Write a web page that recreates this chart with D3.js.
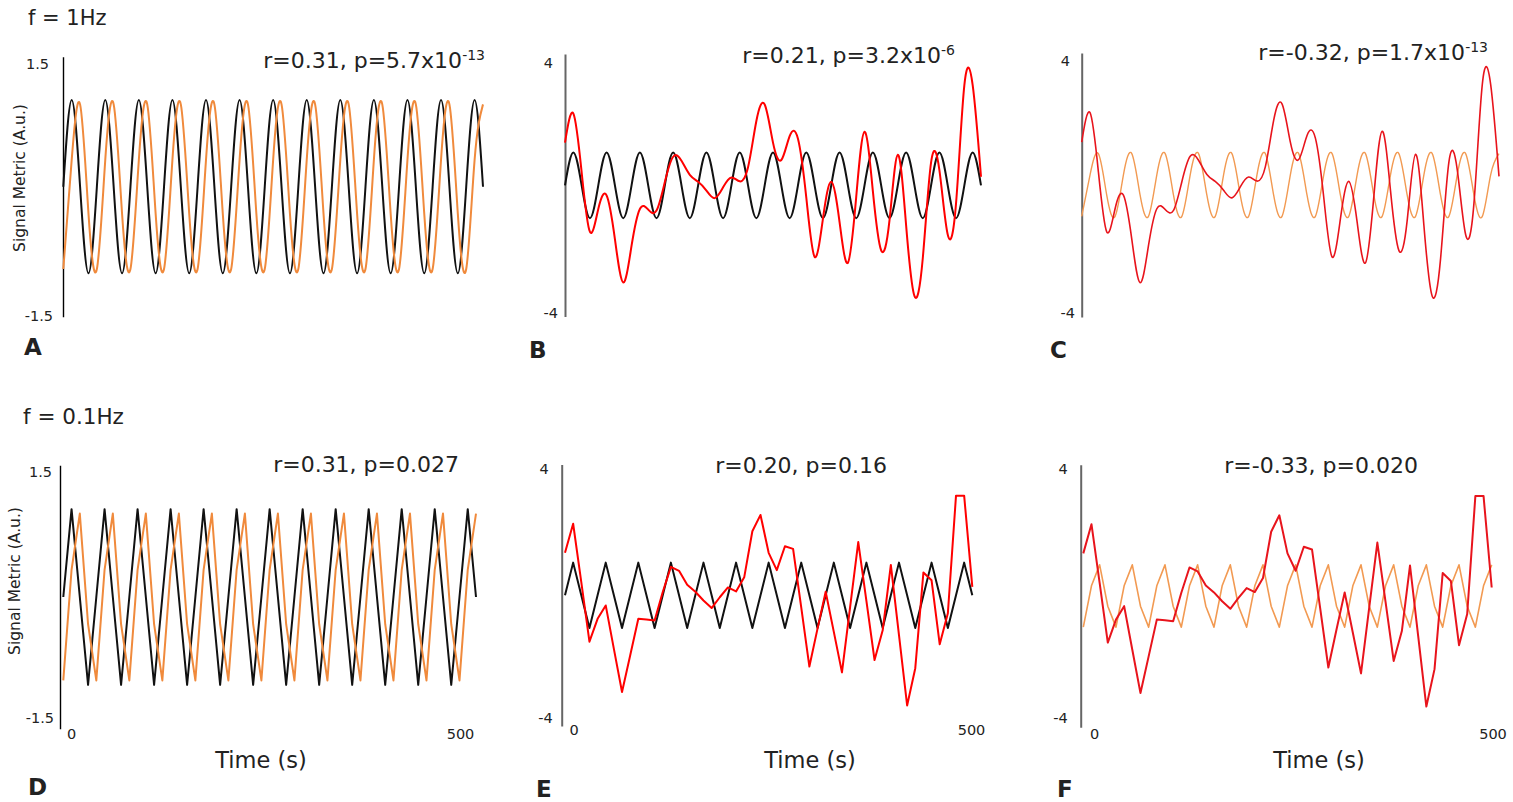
<!DOCTYPE html>
<html>
<head>
<meta charset="utf-8">
<script src="https://cdn.jsdelivr.net/npm/d3@7"></script>
<style>
  body { margin: 0; background: #fff; }
  text { font-family: "DejaVu Sans", sans-serif; fill: #222; }
</style>
</head>
<body>
<script>

// ---- data (one sample every 10 s) ----
var timeSec = [0,10,20,30,40,50,60,70,80,90,100,110,120,130,140,150,160,170,180,190,
               200,210,220,230,240,250,260,270,280,290,300,310,320,330,340,350,360,370,380,390,
               400,410,420,430,440,450,460,470,480,490,500];

// reference sine (black)
var refWave = [0,1,0,-1, 0,1,0,-1, 0,1,0,-1, 0,1,0,-1, 0,1,0,-1, 0,1,0,-1,
               0,1,0,-1, 0,1,0,-1, 0,1,0,-1, 0,1,0,-1, 0,1,0,-1, 0,1,0,-1, 0,1,0];

// lagged sine (orange)
var lagWave = [-0.95,0.31,0.95,-0.31, -0.95,0.31,0.95,-0.31, -0.95,0.31,0.95,-0.31,
               -0.95,0.31,0.95,-0.31, -0.95,0.31,0.95,-0.31, -0.95,0.31,0.95,-0.31,
               -0.95,0.31,0.95,-0.31, -0.95,0.31,0.95,-0.31, -0.95,0.31,0.95,-0.31,
               -0.95,0.31,0.95,-0.31, -0.95,0.31,0.95,-0.31, -0.95,0.31,0.95,-0.31,
               -0.95,0.31,0.95];

// measured signal (red)
var measured = [1.30,2.19,0.40,-1.42,-0.72,-0.31,-1.64,-2.96,-1.84,-0.72,
                -0.74,-0.77,0.10,0.87,0.75,0.32,0.11,-0.16,-0.39,-0.06,
                0.24,0.12,0.55,1.96,2.46,1.30,0.77,1.50,1.42,-0.37,
                -2.18,-1.02,0.11,-1.12,-2.36,-0.36,1.63,-0.17,-1.98,-1.07,
                0.93,-1.22,-3.37,-2.23,0.70,0.46,-1.50,-0.55,3.05,3.05,0.26];

var unitTicks = [-1.5, 1.5];
var wideTicks = [-4, 4];
var timeTicks = [0, 500];

var statR   = ["0.31", "0.21", "-0.32", "0.31", "0.20", "-0.33"];
var statP   = ["5.7x10", "3.2x10", "1.7x10", "0.027", "0.16", "0.020"];
var statExp = ["-13", "-6", "-13", "", "", ""];
var panelLetters = ["A", "B", "C", "D", "E", "F"];
var rowTitles = ["f = 1Hz", "f = 0.1Hz"];

// ---- layout ----
var svg = d3.select("body").append("svg")
    .attr("width", 1513)
    .attr("height", 802);

var black = "#111", orange = "#f08a3c", orangeLight = "#f29a52", red = "#ff0000", red2 = "#e8141c";

var panels = [
  { xr: [63.3, 483], yr: [316.7, 56.7], axisX: 63, ticks: unitTicks, axisColor: "#000", axisW: 1.4,
    pad: [14, 10], dy: [11.3, 3.3], smooth: true,
    lines: [{ v: refWave, c: black, w: 2 }, { v: lagWave, c: orange, w: 2 }],
    stat: { x: 485, y: 68 }, letter: { x: 24, y: 355 }, ylab: { x: 25, y: 178 } },
  { xr: [565, 981], yr: [316.6, 54], axisX: 565, ticks: wideTicks, axisColor: "#666", axisW: 2,
    pad: [12, 7], dy: [13, 0.4], smooth: true,
    lines: [{ v: refWave, c: black, w: 2 }, { v: measured, c: red, w: 2 }],
    stat: { x: 955, y: 63 }, letter: { x: 529, y: 358 } },
  { xr: [1081.7, 1499], yr: [317, 53], axisX: 1081.7, ticks: wideTicks, axisColor: "#666", axisW: 2,
    pad: [11.7, 6.7], dy: [12, 0], smooth: true,
    lines: [{ v: lagWave, c: orangeLight, w: 1.4 }, { v: measured, c: red2, w: 1.6 }],
    stat: { x: 1488, y: 60 }, letter: { x: 1050, y: 358 } },
  { xr: [63.3, 476], yr: [728.7, 465.3], axisX: 60, ticks: unitTicks, axisColor: "#000", axisW: 1.4,
    pad: [8, 6], dy: [10.7, -6.7], smooth: false,
    lines: [{ v: refWave, c: black, w: 2 }, { v: lagWave, c: orange, w: 2 }],
    stat: { x: 459, y: 472 }, letter: { x: 28, y: 795 }, ylab: { x: 20, y: 581 },
    xlab: { dx: [7.7, -16], pad: 0, tx: 261 } },
  { xr: [565, 972.3], yr: [726, 464.6], axisX: 561.7, ticks: wideTicks, axisColor: "#666", axisW: 2,
    pad: [13, 9], dy: [8.4, -4], smooth: false,
    lines: [{ v: refWave, c: black, w: 2 }, { v: measured, c: red, w: 2 }],
    stat: { x: 887, y: 473 }, letter: { x: 536, y: 797 },
    xlab: { dx: [8.5, -1.3], pad: -1.5, tx: 810 } },
  { xr: [1083.3, 1491.7], yr: [727.2, 464.8], axisX: 1080.7, ticks: wideTicks, axisColor: "#666", axisW: 2,
    pad: [13, 13], dy: [8.2, -5], smooth: false,
    lines: [{ v: lagWave, c: orangeLight, w: 1.6 }, { v: measured, c: red2, w: 2 }],
    stat: { x: 1418, y: 473 }, letter: { x: 1057, y: 797 },
    xlab: { dx: [10.7, 0.8], pad: 1.2, tx: 1319 } }
];

panels.forEach(function(p, i) {
    var x = d3.scaleLinear().domain([0, 500]).range(p.xr);
    var y = d3.scaleLinear().domain([p.ticks[0], p.ticks[1]]).range(p.yr);
    var g = svg.append("g");

    // y axis: plain line with end labels
    var yAxis = d3.axisLeft(y)
        .tickValues(p.ticks)
        .tickSize(0)
        .tickSizeOuter(0)
        .tickFormat(function(d) { return String(d); });

    var ax = g.append("g")
        .attr("transform", `translate(${p.axisX}, 0)`)
        .call(yAxis);
    ax.select(".domain").attr("stroke", p.axisColor).attr("stroke-width", p.axisW);
    ax.selectAll(".tick text")
        .attr("x", function(d) { return d > 0 ? -p.pad[0] : -p.pad[1]; })
        .attr("dy", function(d) { return d > 0 ? p.dy[0] : p.dy[1]; })
        .attr("font-family", "DejaVu Sans")
        .attr("font-size", "14.5px")
        .attr("fill", "#333");

    // x labels on the bottom row
    if (p.xlab) {
        var xAxis = d3.axisBottom(x)
            .tickValues(timeTicks)
            .tickSize(0)
            .tickPadding(p.xlab.pad)
            .tickFormat(function(d) { return String(d); });
        var bx = g.append("g")
            .attr("transform", `translate(0, ${p.yr[0]})`)
            .call(xAxis);
        bx.select(".domain").remove();
        bx.selectAll(".tick text")
            .attr("dx", function(d, k) { return p.xlab.dx[k]; })
            .attr("font-family", "DejaVu Sans")
            .attr("font-size", "14.5px")
            .attr("fill", "#333");

        g.append("text")
            .attr("x", p.xlab.tx)
            .attr("y", 768)
            .attr("text-anchor", "middle")
            .attr("font-size", "22.5px")
            .text("Time (s)");
    }

    // signal lines
    var line = d3.line()
        .x(function(d, k) { return x(timeSec[k]); })
        .y(function(d) { return y(d); })
        .curve(p.smooth ? d3.curveNatural : d3.curveLinear);

    p.lines.forEach(function(s) {
        g.append("path")
            .datum(s.v)
            .attr("d", line)
            .attr("fill", "none")
            .attr("stroke", s.c)
            .attr("stroke-width", s.w)
            .attr("stroke-linejoin", "round");
    });

    // correlation text
    var st = g.append("text")
        .attr("x", p.stat.x)
        .attr("y", p.stat.y)
        .attr("text-anchor", "end")
        .attr("font-size", "22px")
        .attr("fill", "#111");
    st.append("tspan").text("r=" + statR[i] + ", p=" + statP[i]);
    if (statExp[i]) {
        st.append("tspan").attr("dy", -8).attr("font-size", "14px").text(statExp[i]);
    }

    // panel letter
    g.append("text")
        .attr("x", p.letter.x)
        .attr("y", p.letter.y)
        .attr("font-size", "23px")
        .attr("font-weight", "bold")
        .attr("fill", "#111")
        .text(panelLetters[i]);

    // y axis title
    if (p.ylab) {
        g.append("text")
            .attr("transform", `translate(${p.ylab.x}, ${p.ylab.y}) rotate(-90)`)
            .attr("text-anchor", "middle")
            .attr("font-size", "15.5px")
            .attr("fill", "#333")
            .text("Signal Metric (A.u.)");
    }
});

// row titles
svg.append("text").attr("x", 28).attr("y", 25).attr("font-size", "21px").attr("fill", "#111").text(rowTitles[0]);
svg.append("text").attr("x", 23).attr("y", 424).attr("font-size", "21.5px").attr("fill", "#111").text(rowTitles[1]);

</script>
</body>
</html>
